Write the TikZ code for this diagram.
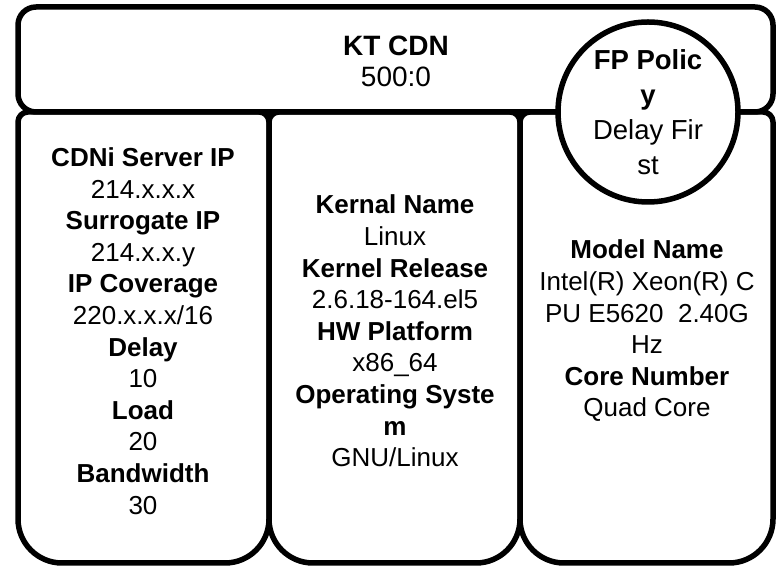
\documentclass[tikz,border=0pt]{standalone}
\usepackage{fontspec}
\setmainfont{Liberation Sans}
\begin{document}
\begin{tikzpicture}[x=1pt,y=1pt,
  box/.style={draw=black,line width=5.5pt,line join=round},
  txt/.style={align=center,inner sep=0pt,font=\fontsize{26}{31.6}\selectfont},
  circtxt/.style={circle,draw=black,fill=white,line width=5.5pt,minimum size=180pt,inner sep=0pt,align=center,font=\fontsize{27.5}{35}\selectfont}]
\useasboundingbox (0,0) rectangle (781,569);
% lower boxes
\foreach \xa/\xb in {18/269, 269/520, 520/773}{
  \draw[box,fill=white] (\xa+10,457) -- (\xb-10,457) arc[start angle=90,end angle=0,radius=10]
    -- (\xb,50) arc[start angle=0,end angle=-90,radius=44]
    -- (\xa+44,6) arc[start angle=-90,end angle=-180,radius=44]
    -- (\xa,447) arc[start angle=180,end angle=90,radius=10] -- cycle;
}
% top box
\draw[box,fill=white,rounded corners=18pt] (18,457) rectangle (773,562);
\node[txt,font=\fontsize{28}{31}\selectfont] (kt) at (396,508) {\textbf{KT CDN}\\500:0};
% circle
\node[circtxt] (fp) at (648,457) {\textbf{FP Polic}\\\textbf{y}\\Delay Fir\\st};
% columns
\node[txt] (left) at (143,238) {\textbf{CDNi Server IP}\\214.x.x.x\\\textbf{Surrogate IP}\\214.x.x.y\\\textbf{IP Coverage}\\220.x.x.x/16\\\textbf{Delay}\\10\\\textbf{Load}\\20\\\textbf{Bandwidth}\\30};
\node[txt] (mid) at (395,238) {\textbf{Kernal Name}\\Linux\\\textbf{Kernel Release}\\2.6.18-164.el5\\\textbf{HW Platform}\\x86\_64\\\textbf{Operating Syste}\\\textbf{m}\\GNU/Linux};
\node[txt] (right) at (647,238) {\textbf{Model Name}\\Intel(R) Xeon(R) C\\PU E5620\ \ 2.40G\\Hz\\\textbf{Core Number}\\Quad Core};
\end{tikzpicture}
\end{document}
